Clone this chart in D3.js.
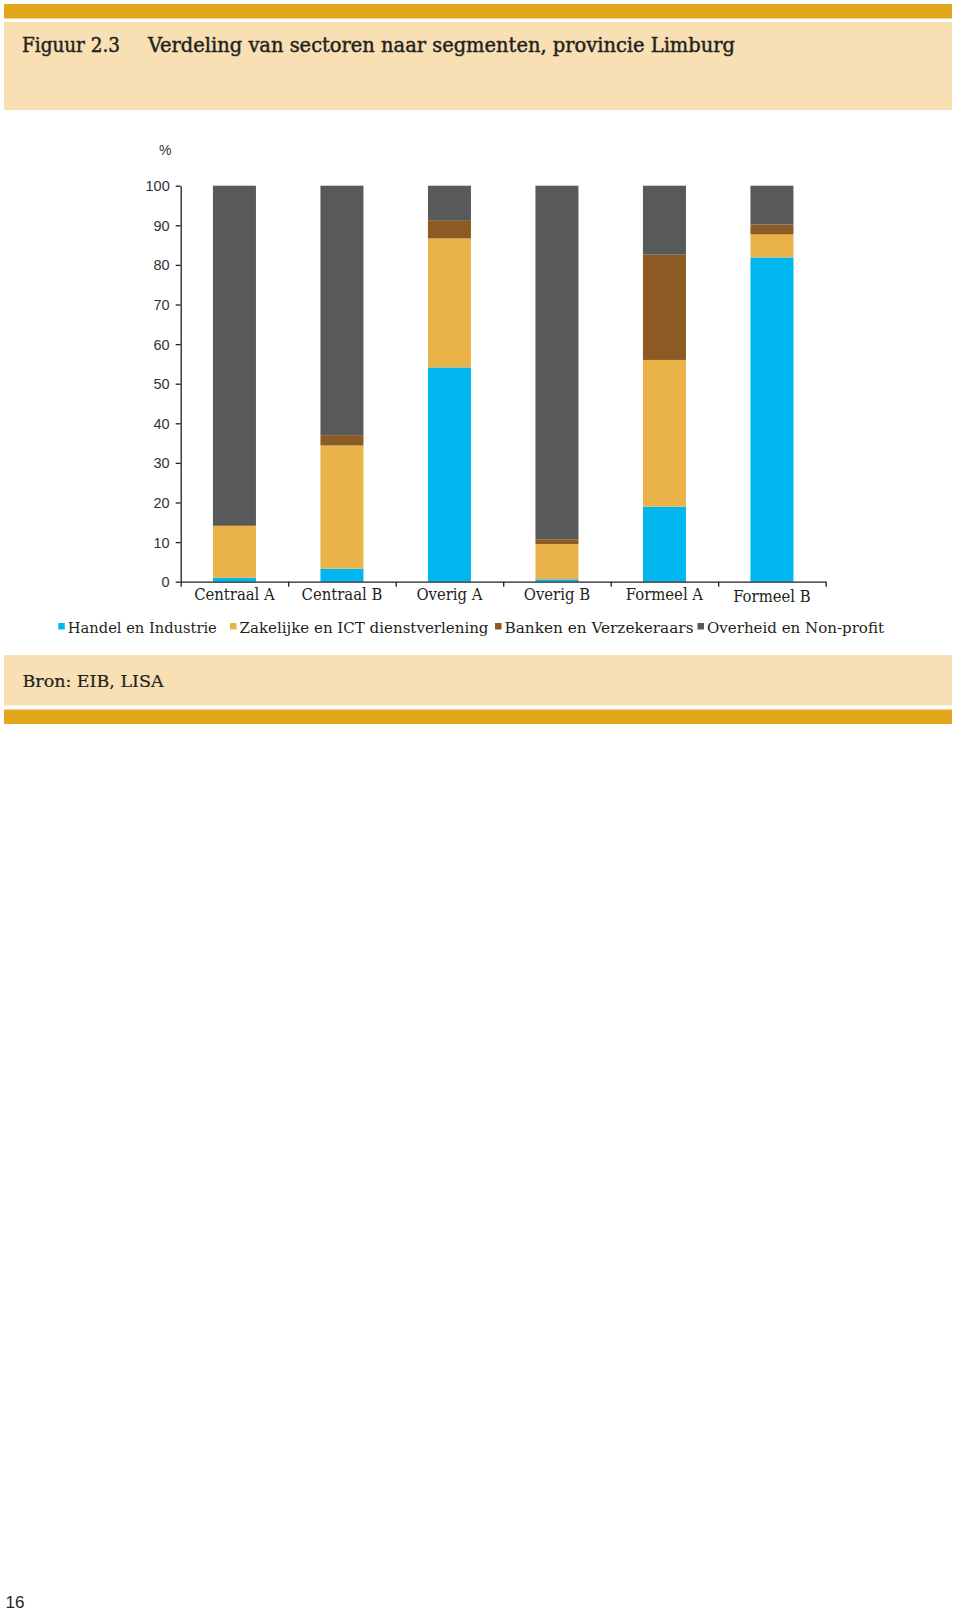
<!DOCTYPE html>
<html>
<head>
<meta charset="utf-8">
<script src="https://cdn.jsdelivr.net/npm/d3@7"></script>
<style>
  html, body { margin: 0; padding: 0; background: #fff; }
  svg { display: block; }
</style>
</head>
<body>
<svg id="chart" width="960" height="1610"></svg>
<script>
// ---- Data ----
const categories = ["Centraal A", "Centraal B", "Overig A", "Overig B", "Formeel A", "Formeel B"];
const seriesNames = ["Handel en Industrie", "Zakelijke en ICT dienstverlening", "Banken en Verzekeraars", "Overheid en Non-profit"];
const handelIndustrie   = [1.0, 3.3, 54.1, 0.6, 18.9, 81.9];
const zakelijkeICT      = [13.1, 31.1, 32.6, 8.9, 37.1, 5.8];
const bankenVerzekeraars= [0.2, 2.6, 4.6, 1.2, 26.6, 2.5];
const overheidNonProfit = [85.7, 63.0, 8.7, 89.3, 17.4, 9.8];
const yTicks = [0, 10, 20, 30, 40, 50, 60, 70, 80, 90, 100];
const titleNumber = "Figuur 2.3";
const titleText = "Verdeling van sectoren naar segmenten, provincie Limburg";
const sourceText = "Bron: EIB, LISA";
const pageNumber = "16";

// ---- Styles ----
const colors = ["#00B6EF", "#EAB34A", "#8C5A23", "#58595B"];
const gold = "#E2A71A", beige = "#F8DFB4", ink = "#231F20";
const serif = "'DejaVu Serif Condensed', 'DejaVu Serif', serif";
const sans = "'Liberation Sans', Arial, sans-serif";

const svg = d3.select("#chart");

function fit(sel, w) {
  sel.each(function() {
    const len = this.getComputedTextLength();
    if (len > 0 && Math.abs(len - w) > 1) {
      d3.select(this).attr("textLength", w).attr("lengthAdjust", "spacingAndGlyphs");
    }
  });
  return sel;
}

// ---- Frame ----
svg.append("rect").attr("x", 4).attr("y", 4).attr("width", 948).attr("height", 14.5).attr("fill", gold);
svg.append("rect").attr("x", 4).attr("y", 22).attr("width", 948).attr("height", 88).attr("fill", beige);
svg.append("text").attr("x", 22).attr("y", 51.5).attr("font-family", serif).attr("font-size", 19.5)
  .attr("fill", ink).attr("stroke", ink).attr("stroke-width", 0.4).text(titleNumber).call(fit, 98);
svg.append("text").attr("x", 148).attr("y", 51.5).attr("font-family", serif).attr("font-size", 19.5)
  .attr("fill", ink).attr("stroke", ink).attr("stroke-width", 0.4).text(titleText).call(fit, 587);

svg.append("rect").attr("x", 4).attr("y", 655).attr("width", 948).attr("height", 50.5).attr("fill", beige);
svg.append("rect").attr("x", 4).attr("y", 709.5).attr("width", 948).attr("height", 14.5).attr("fill", gold);
svg.append("text").attr("x", 22.5).attr("y", 687).attr("font-family", serif).attr("font-size", 17.5)
  .attr("fill", ink).attr("stroke", ink).attr("stroke-width", 0.2).text(sourceText).call(fit, 141);

svg.append("text").attr("x", 5.5).attr("y", 1607.5).attr("font-family", sans).attr("font-size", 17)
  .attr("fill", ink).text(pageNumber);

// ---- Chart ----
const x0 = 180.7, x1 = 825.7, yBottom = 581.7, yTop = 185.7;
const x = d3.scaleBand().domain(categories).range([x0, x1]).paddingInner(0.6).paddingOuter(0.3);
const y = d3.scaleLinear().domain([0, 100]).range([yBottom, yTop]);

const rows = categories.map((c, i) => ({
  cat: c,
  s0: handelIndustrie[i], s1: zakelijkeICT[i], s2: bankenVerzekeraars[i], s3: overheidNonProfit[i]
}));
const stack = d3.stack().keys(["s0", "s1", "s2", "s3"])(rows);

const g = svg.append("g");
g.selectAll("g.layer").data(stack).join("g").attr("class", "layer")
  .attr("fill", (d, i) => colors[i])
  .selectAll("rect").data(d => d).join("rect")
  .attr("x", d => x(d.data.cat))
  .attr("width", x.bandwidth())
  .attr("y", d => y(d[1]))
  .attr("height", d => Math.max(0, y(d[0]) - y(d[1])));

// Y axis
const yAxis = svg.append("g").attr("transform", `translate(${x0},0)`)
  .call(d3.axisLeft(y).tickValues(yTicks).tickSize(5).tickSizeOuter(0).tickPadding(6));
yAxis.select(".domain").attr("stroke", ink).attr("stroke-width", 1.3);
yAxis.selectAll(".tick line").attr("stroke", ink).attr("stroke-width", 1.3);
yAxis.selectAll(".tick text").attr("font-family", sans).attr("font-size", 14.5).attr("fill", "#333").attr("dy", "0.34em");

// X axis (boundary ticks between categories)
const xb = d3.scaleLinear().domain([0, categories.length]).range([x0, x1]);
const xAxis = svg.append("g").attr("transform", `translate(0,${yBottom})`)
  .call(d3.axisBottom(xb).tickValues(d3.range(0, categories.length + 1)).tickFormat("").tickSize(5).tickSizeOuter(0));
xAxis.select(".domain").attr("stroke", ink).attr("stroke-width", 1.3);
xAxis.selectAll(".tick line").attr("stroke", ink).attr("stroke-width", 1.3);

// Category labels
svg.append("g").selectAll("text").data(categories).join("text")
  .attr("x", d => x(d) + x.bandwidth() / 2)
  .attr("y", (d, i) => i === categories.length - 1 ? 602 : 600)
  .attr("text-anchor", "middle")
  .attr("font-family", serif).attr("font-size", 16.5).attr("fill", ink)
  .text(d => d);

// % label
svg.append("text").attr("x", 159).attr("y", 155).attr("font-family", sans).attr("font-size", 14)
  .attr("fill", "#333").text("%");

// Legend
const legendX = [58.3, 230, 495, 697.5];
const legendW = [149, 249, 189, 177];
const leg = svg.append("g").selectAll("g").data(seriesNames).join("g")
  .attr("transform", (d, i) => `translate(${legendX[i]},0)`);
leg.append("rect").attr("x", 0).attr("y", 623).attr("width", 6.5).attr("height", 6.5)
  .attr("fill", (d, i) => colors[i]);
leg.append("text").attr("x", 9.5).attr("y", 633.3).attr("font-family", serif).attr("font-size", 15.5)
  .attr("fill", ink).text(d => d)
  .each(function(d, i) { d3.select(this).call(fit, legendW[i]); });
</script>
</body>
</html>
